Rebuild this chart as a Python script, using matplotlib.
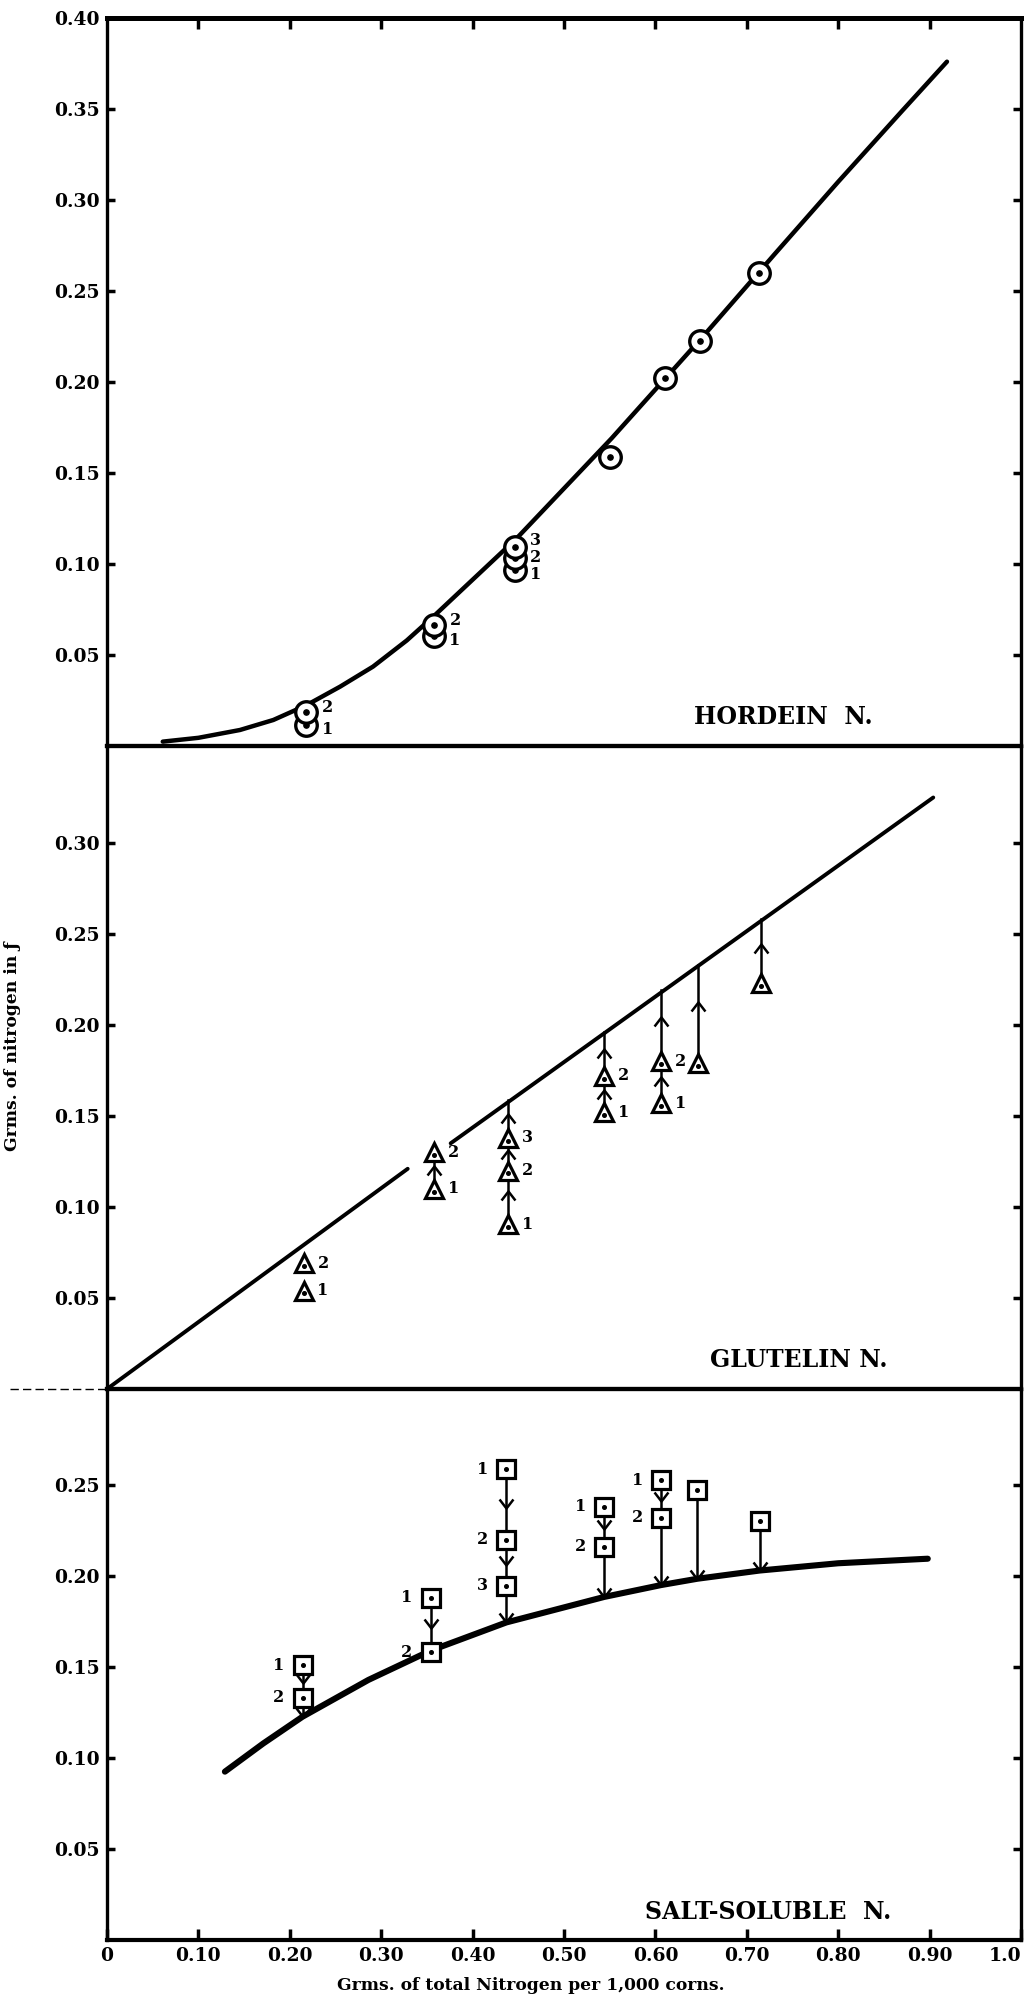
import matplotlib
matplotlib.use("Agg")
import matplotlib.pyplot as plt
from matplotlib.path import Path
from matplotlib.lines import Line2D
import numpy as np

# ---------------- data ----------------
x_ticks = [0, 0.1, 0.2, 0.3, 0.4, 0.5, 0.6, 0.7, 0.8, 0.9, 1.0]
x_ticklabels = ["0", "0.10", "0.20", "0.30", "0.40", "0.50", "0.60", "0.70", "0.80", "0.90", "1.0"]

hord_yticks = [0.05, 0.10, 0.15, 0.20, 0.25, 0.30, 0.35, 0.40]
glut_yticks = [0.05, 0.10, 0.15, 0.20, 0.25, 0.30]
salt_yticks = [0.05, 0.10, 0.15, 0.20, 0.25]

# Hordein N.
hord_curve_x = [0.061, 0.100, 0.1455, 0.182, 0.2185, 0.255, 0.291, 0.328, 0.360, 0.448,
                0.552, 0.652, 0.730, 0.800, 0.870, 0.919]
hord_curve_y = [0.0024, 0.0045, 0.0088, 0.0143, 0.0225, 0.0326, 0.0436, 0.058, 0.0725, 0.114,
                0.169, 0.225, 0.270, 0.310, 0.349, 0.376]
hord_x = [0.218, 0.218, 0.358, 0.358, 0.446, 0.446, 0.446, 0.550, 0.611, 0.649, 0.713]
hord_y = [0.0115, 0.0189, 0.0604, 0.0665, 0.0967, 0.1033, 0.1093, 0.159, 0.202, 0.2225, 0.260]
hord_lab = ["1", "2", "1", "2", "1", "2", "3", "", "", "", ""]

# Glutelin N.
glut_line_x = [0.0, 0.329, np.nan, 0.376, 0.904]
glut_line_y = [0.0, 0.121, np.nan, 0.135, 0.325]
glut_x = [0.215, 0.215, 0.358, 0.358, 0.439, 0.439, 0.439, 0.544, 0.544, 0.606, 0.606, 0.647, 0.716]
glut_y = [0.054, 0.069, 0.110, 0.130, 0.0906, 0.120, 0.138, 0.152, 0.172, 0.157, 0.180, 0.179, 0.223]
glut_lab = ["1", "2", "1", "2", "1", "2", "3", "1", "2", "1", "2", "", ""]
glut_arr_x = [0.358, 0.439, 0.439, 0.439, 0.544, 0.544, 0.606, 0.606, 0.647, 0.716]
glut_arr_y0 = [0.110, 0.0906, 0.120, 0.138, 0.152, 0.172, 0.157, 0.180, 0.179, 0.223]
glut_arr_y1 = [0.130, 0.120, 0.138, 0.159, 0.172, 0.196, 0.180, 0.219, 0.233, 0.258]

# Salt-soluble N.
salt_curve_x = [0.129, 0.171, 0.214, 0.286, 0.354, 0.437, 0.544, 0.606, 0.646, 0.714, 0.800, 0.898]
salt_curve_y = [0.0925, 0.108, 0.1227, 0.1429, 0.159, 0.1745, 0.1885, 0.1950, 0.1985, 0.2030, 0.2070, 0.2095]
salt_x = [0.214, 0.214, 0.354, 0.354, 0.437, 0.437, 0.437, 0.544, 0.544, 0.606, 0.606, 0.646, 0.714]
salt_y = [0.151, 0.133, 0.188, 0.158, 0.2586, 0.2198, 0.1947, 0.238, 0.216, 0.2527, 0.232, 0.2473, 0.2304]
salt_lab = ["1", "2", "1", "2", "1", "2", "3", "1", "2", "1", "2", "", ""]
salt_arr_x = [0.214, 0.214, 0.354, 0.437, 0.437, 0.437, 0.544, 0.544, 0.606, 0.606, 0.646, 0.714]
salt_arr_y0 = [0.151, 0.133, 0.188, 0.2586, 0.2198, 0.1947, 0.238, 0.216, 0.2527, 0.232, 0.2473, 0.2304]
salt_arr_y1 = [0.133, 0.1227, 0.158, 0.2198, 0.1947, 0.1745, 0.216, 0.1885, 0.232, 0.1950, 0.1985, 0.2030]

# ---------------- style ----------------
plt.rcParams["font.family"] = ["DejaVu Serif", "Liberation Serif"]
plt.rcParams["font.weight"] = "bold"

W, H = 1031, 2005
fig = plt.figure(figsize=(W / 100, H / 100), dpi=100)
fig.patch.set_facecolor("white")

L, R = 107, 1021
PX_PER_UNIT = 1820.0
panels = [(18, 746), (746, 1389), (1389, 1940)]


def make_ax(top, bot):
    return fig.add_axes([L / W, 1 - bot / H, (R - L) / W, (bot - top) / H])


ax_h = make_ax(*panels[0])
ax_g = make_ax(*panels[1])
ax_s = make_ax(*panels[2])
axes = [ax_h, ax_g, ax_s]
ylims = [(panels[i][1] - panels[i][0]) / PX_PER_UNIT for i in range(3)]
yticks = [hord_yticks, glut_yticks, salt_yticks]

TICKFS = 13.5
for i, ax in enumerate(axes):
    ax.set_xlim(0, 1)
    ax.set_ylim(0, ylims[i])
    ax.set_facecolor("none")
    ax.set_yticks(yticks[i])
    ax.set_yticklabels(["%.2f" % v for v in yticks[i]])
    ax.tick_params(axis="y", direction="in", left=True, right=True, length=6, width=2.5,
                   labelsize=TICKFS, pad=5)
    for lab in ax.get_yticklabels():
        lab.set_fontweight("bold")
    for s in ax.spines.values():
        s.set_linewidth(2.4)
        s.set_color("black")
    ax.spines["top"].set_linewidth(3.0)
    ax.spines["bottom"].set_linewidth(3.0)

ax_h.spines["top"].set_linewidth(3.6)
ax_h.set_xticks(x_ticks[1:-1])
ax_h.tick_params(axis="x", direction="in", top=True, bottom=False, labeltop=False,
                 labelbottom=False, length=8, width=2.5)
ax_g.set_xticks([])
ax_s.set_xticks(x_ticks)
ax_s.set_xticklabels(x_ticklabels)
ax_s.tick_params(axis="x", direction="in", top=False, bottom=True, length=8, width=2.5,
                 labelsize=TICKFS, pad=5)
for lab in ax_s.get_xticklabels():
    lab.set_fontweight("bold")
ax_s.get_xticklabels()[-1].set_horizontalalignment("right")

# chevron markers
chev_up = Path([(-1, -1.3), (0, 0), (1, -1.3)], [Path.MOVETO, Path.LINETO, Path.LINETO])
chev_dn = Path([(-1, 1.3), (0, 0), (1, 1.3)], [Path.MOVETO, Path.LINETO, Path.LINETO])

LABFS = 11.5

# ---------------- Hordein ----------------
ax_h.plot(hord_curve_x, hord_curve_y, color="black", lw=3.2, solid_capstyle="round",
          solid_joinstyle="round", zorder=2)
order = np.argsort(hord_y)
for k, idx in enumerate(order):
    ax_h.plot(hord_x[idx], hord_y[idx], marker="o", ms=15.5, mfc="white", mec="black",
              mew=2.4, zorder=5 + k * 2)
    ax_h.plot(hord_x[idx], hord_y[idx], marker="o", ms=3.8, color="black", zorder=6 + k * 2)
for xv, yv, lab in zip(hord_x, hord_y, hord_lab):
    if lab:
        has3 = any(abs(xx - xv) < 1e-6 and ll == "3" for xx, ll in zip(hord_x, hord_lab))
        dy = {"1": -3, "2": 3, "3": 5}[lab]
        if lab == "2" and has3:
            dy = 0
        ax_h.annotate(lab, (xv, yv), xytext=(11, dy), textcoords="offset points",
                      fontsize=LABFS, fontweight="bold", va="center", ha="left", zorder=40)

# ---------------- Glutelin ----------------
ax_g.plot(glut_line_x, glut_line_y, color="black", lw=2.8, solid_capstyle="round", zorder=2)
for xv, y0, y1 in zip(glut_arr_x, glut_arr_y0, glut_arr_y1):
    ax_g.plot([xv, xv], [y0, y1], color="black", lw=1.8, zorder=3)
    ax_g.plot(xv, y0 + 0.62 * (y1 - y0), marker=chev_up, ms=13, mfc="none", mec="black",
              mew=1.8, zorder=4)
for xv, yv in zip(glut_x, glut_y):
    ax_g.plot(xv, yv, marker="^", ms=13.5, mfc="white", mec="black", mew=2.3, zorder=10)
    ax_g.plot(xv, yv - 0.0015, marker="o", ms=2.6, color="black", zorder=11)
for xv, yv, lab in zip(glut_x, glut_y, glut_lab):
    if lab:
        ax_g.annotate(lab, (xv, yv), xytext=(10, 0), textcoords="offset points",
                      fontsize=LABFS, fontweight="bold", va="center", ha="left", zorder=40)

# ---------------- Salt-soluble ----------------
ax_s.plot(salt_curve_x, salt_curve_y, color="black", lw=4.4, solid_capstyle="round",
          solid_joinstyle="round", zorder=2)
for xv, y0, y1 in zip(salt_arr_x, salt_arr_y0, salt_arr_y1):
    ax_s.plot([xv, xv], [y0, y1], color="black", lw=1.8, zorder=3)
    final = not any(abs(y1 - sy) < 1e-9 and abs(xv - sx) < 1e-9 for sx, sy in zip(salt_x, salt_y))
    tip = y1 if final else y0 + 0.55 * (y1 - y0)
    ax_s.plot(xv, tip, marker=chev_dn, ms=13, mfc="none", mec="black", mew=1.8, zorder=4)
for xv, yv in zip(salt_x, salt_y):
    ax_s.plot(xv, yv, marker="s", ms=12.5, mfc="white", mec="black", mew=2.3, zorder=10)
    ax_s.plot(xv, yv, marker="o", ms=2.6, color="black", zorder=11)
for xv, yv, lab in zip(salt_x, salt_y, salt_lab):
    if lab:
        ax_s.annotate(lab, (xv, yv), xytext=(-13, 0), textcoords="offset points",
                      fontsize=LABFS, fontweight="bold", va="center", ha="right", zorder=40)

# ---------------- panel titles ----------------
TFS = 17
ax_h.text(0.740, 0.0157, "HORDEIN  N.", fontsize=TFS, fontweight="bold", ha="center", va="center")
ax_g.text(0.757, 0.0160, "GLUTELIN N.", fontsize=TFS, fontweight="bold", ha="center", va="center")
ax_s.text(0.723, 0.0154, "SALT-SOLUBLE  N.", fontsize=TFS, fontweight="bold", ha="center", va="center")

# ---------------- axis labels ----------------
fig.text(531 / W, 1 - 1985 / H, "Grms. of total Nitrogen per 1,000 corns.", fontsize=12.3,
         fontweight="bold", ha="center", va="center")
fig.text(13 / W, 1 - 1046 / H, "Grms. of nitrogen in \u0192", fontsize=12.3, fontweight="bold",
         rotation=90, ha="center", va="center")

# stray extension of the boundary line at the left
fig.add_artist(Line2D([10 / W, 107 / W], [1 - 1389 / H, 1 - 1389 / H], color="black",
                      lw=1.0, linestyle=(0, (6, 3))))

fig.savefig("out.png", dpi=100, facecolor="white")
